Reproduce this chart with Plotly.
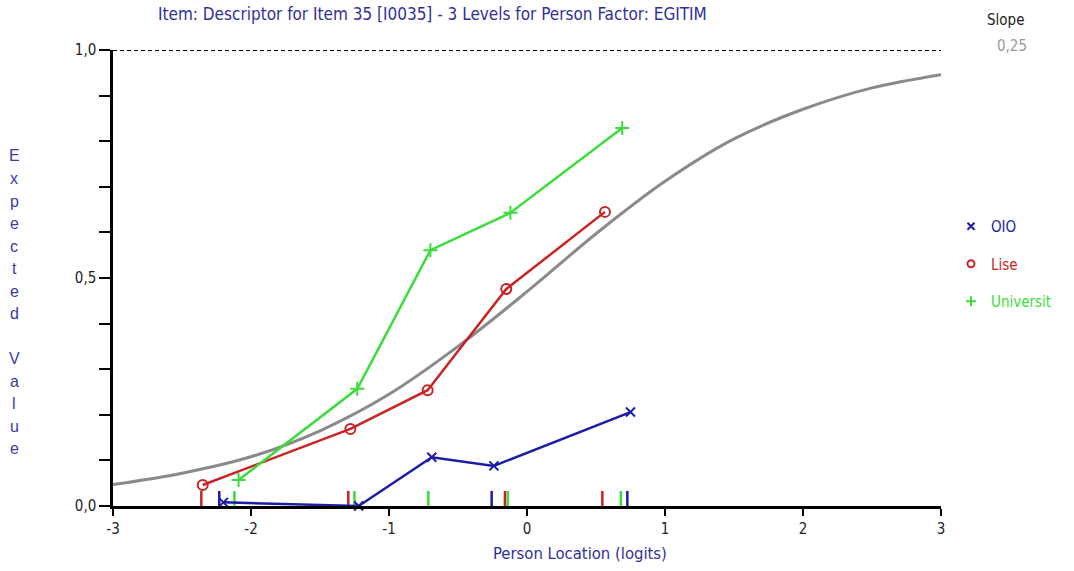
import plotly.graph_objects as go

# ---------------- data ----------------
oio_x = [-2.20, -1.22, -0.69, -0.24, 0.75]
oio_y = [0.008, 0.0, 0.107, 0.088, 0.206]

lise_x = [-2.35, -1.28, -0.72, -0.15, 0.565]
lise_y = [0.046, 0.169, 0.254, 0.476, 0.645]

univ_x = [-2.09, -1.23, -0.70, -0.12, 0.69]
univ_y = [0.057, 0.257, 0.561, 0.643, 0.829]

# expected-value curve
curve_x = [-3.0, -2.5, -2.0, -1.5, -1.0, -0.5, 0.0, 0.5, 1.0, 1.5, 2.0, 2.5, 3.0]
curve_y = [0.047, 0.072, 0.108, 0.165, 0.245, 0.350, 0.470, 0.597, 0.712, 0.805, 0.870, 0.917, 0.946]

# small class-interval markers on the x axis
oio_marks = [-2.23, -0.256, 0.727]
lise_marks = [-2.36, -1.295, -0.16, 0.546]
univ_marks = [-2.12, -1.25, -0.715, -0.14, 0.68]
mark_height = 0.033

x_ticks = [-3, -2, -1, 0, 1, 2, 3]
x_tick_text = ["-3", "-2", "-1", "0", "1", "2", "3"]

title_text = "Item: Descriptor for Item 35 [I0035] - 3 Levels for Person Factor: EGITIM"
x_title = "Person Location (logits)"
y_title_words = ["Expected", "Value"]
slope_label = "Slope"
slope_value = "0,25"

names = ["OIO", "Lise", "Universit"]

# ---------------- style ----------------
BLUE = "#1c1ca4"
RED = "#c92424"
GREEN = "#3ddc3d"
GRAY = "#8a8a8a"
NARROW = "Liberation Sans Narrow, Arial Narrow, DejaVu Sans Condensed, Liberation Sans, sans-serif"

fig = go.Figure()

fig.add_trace(go.Scatter(x=curve_x, y=curve_y, mode="lines",
                         line=dict(color=GRAY, width=3, shape="spline", smoothing=1.0),
                         showlegend=False, hoverinfo="skip"))


def mark_xy(xs):
    X, Y = [], []
    for v in xs:
        X += [v, v, None]
        Y += [0, mark_height, None]
    return X, Y


for marks, col in [(oio_marks, BLUE), (lise_marks, RED), (univ_marks, GREEN)]:
    mx, my = mark_xy(marks)
    fig.add_trace(go.Scatter(x=mx, y=my, mode="lines", line=dict(color=col, width=2.5),
                             showlegend=False, hoverinfo="skip", cliponaxis=False))

series = [
    (oio_x, oio_y, BLUE, "x-thin", 9),
    (lise_x, lise_y, RED, "circle-open", 10),
    (univ_x, univ_y, GREEN, "cross-thin", 10),
]
for (xs, ys, col, sym, sz) in series:
    fig.add_trace(go.Scatter(x=xs, y=ys, mode="lines+markers",
                             line=dict(color=col, width=2.5),
                             marker=dict(symbol=sym, size=sz, color=col,
                                         line=dict(color=col, width=2)),
                             showlegend=False, cliponaxis=False))

# legend entries (symbol only, coloured text)
for i, ((xs, ys, col, sym, sz), nm) in enumerate(zip(series, names)):
    fig.add_trace(go.Scatter(x=[None], y=[None], mode="markers",
                             marker=dict(symbol=sym, size=7, color=col,
                                         line=dict(color=col, width=2)),
                             name=f"<span style='color:{col}'>{nm}</span>",
                             legendgroup=f"g{i}", showlegend=True))

fig.add_shape(type="line", xref="x", yref="y", x0=-3, x1=3, y0=1, y1=1,
              line=dict(color="black", width=2, dash="4px,3px"))

annotations = [
    dict(text=title_text, xref="paper", yref="paper", x=(432 - 113) / 828, y=1.0 + 36 / 456,
         xanchor="center", yanchor="middle", showarrow=False,
         font=dict(family=NARROW, size=17, color="#30309a")),
    dict(text=x_title, xref="paper", yref="paper", x=(580 - 113) / 828, y=-47 / 456,
         xanchor="center", yanchor="middle", showarrow=False,
         font=dict(family=NARROW, size=16.5, color="#30309a")),
    dict(text=slope_label, xref="paper", yref="paper", x=(1006 - 113) / 828, y=(506 - 20) / 456,
         xanchor="center", yanchor="middle", showarrow=False,
         font=dict(family=NARROW, size=15, color="#222222")),
    dict(text=slope_value, xref="paper", yref="paper", x=(1012 - 113) / 828, y=(506 - 46) / 456,
         xanchor="center", yanchor="middle", showarrow=False,
         font=dict(family=NARROW, size=15, color="#9a9a9a")),
]
letters = list(y_title_words[0]) + [""] + list(y_title_words[1])
for i, ch in enumerate(letters):
    if ch == "":
        continue
    py = 156 + i * 22.5
    annotations.append(dict(text=ch, xref="paper", yref="paper",
                            x=(14 - 113) / 828, y=(506 - py) / 456,
                            xanchor="center", yanchor="middle", showarrow=False,
                            font=dict(family="Liberation Sans, Arial, sans-serif", size=16,
                                      color="#3a3aa8")))

fig.update_layout(
    width=1074, height=571,
    margin=dict(l=113, r=133, t=50, b=65),
    paper_bgcolor="white", plot_bgcolor="white",
    separators=",.",
    font=dict(family=NARROW, size=14, color="#222222"),
    annotations=annotations,
    legend=dict(x=(951 - 113) / 828, y=(506 - 210) / 456, xanchor="left", yanchor="top",
                bgcolor="rgba(0,0,0,0)", tracegroupgap=15,
                font=dict(family=NARROW, size=15)),
    xaxis=dict(range=[-3, 3], showgrid=False, zeroline=False, showline=True,
               linecolor="black", linewidth=2.5, ticks="outside", ticklen=7,
               tickwidth=1.5, tickcolor="black",
               tickmode="array", tickvals=x_ticks, ticktext=x_tick_text,
               tickfont=dict(family=NARROW, size=15, color="#222222")),
    yaxis=dict(range=[0, 1], showgrid=False, zeroline=False, showline=True,
               linecolor="black", linewidth=2.5, ticks="outside", ticklen=11,
               tickwidth=1.5, tickcolor="black",
               tick0=0, dtick=0.5, tickformat=".1f",
               minor=dict(dtick=0.1, ticks="outside", ticklen=11, tickwidth=1.5,
                          tickcolor="black"),
               tickfont=dict(family=NARROW, size=15, color="#222222")),
)

fig.write_html("out.html")
